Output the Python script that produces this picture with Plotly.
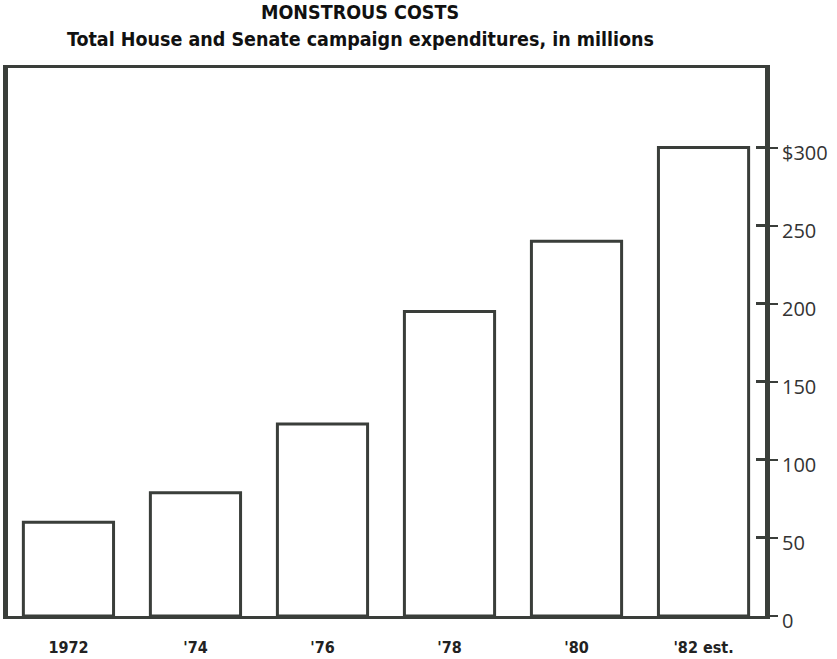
import plotly.graph_objects as go

categories = ["1972", "'74", "'76", "'78", "'80", "'82 est."]
values = [60, 79, 123, 195, 240, 300]
tick_vals = [0, 50, 100, 150, 200, 250, 300]
tick_text = ["0", "50", "100", "150", "200", "250", "$300"]

line_col = "#3a3e3a"
narrow = "DejaVu Sans Condensed, Liberation Sans Narrow, Open Sans, sans-serif"

W, H = 837, 659
L, R, T, B = 8, 837 - 765, 68, 659 - 616
ph = H - T - B

fig = go.Figure()
fig.add_trace(go.Bar(
    x=categories, y=values, width=0.71,
    marker=dict(color="white", line=dict(color=line_col, width=3)),
    showlegend=False, hoverinfo="x+y",
))
# invisible trace to carry the inner tick marks on an overlay axis
fig.add_trace(go.Scatter(x=categories, y=values, xaxis="x", yaxis="y2", mode="markers",
                         marker=dict(opacity=0), showlegend=False, hoverinfo="skip"))

fig.update_layout(
    width=W, height=H,
    paper_bgcolor="white", plot_bgcolor="white",
    margin=dict(l=L, r=R, t=T, b=B, autoexpand=False),
    font=dict(family=narrow, color="#222"),
    xaxis=dict(
        showline=True, linecolor=line_col, linewidth=3, mirror=True,
        showgrid=False, ticks="", zeroline=False, automargin=False,
        ticklabelstandoff=15,
        tickfont=dict(size=16, family=narrow, weight="bold", color="#222"),
        range=[-0.476, 5.484],
    ),
    yaxis=dict(
        side="right", range=[0, 351], showgrid=False, zeroline=False, automargin=False,
        showline=True, linecolor=line_col, linewidth=5, mirror=True,
        tickmode="array", tickvals=tick_vals, ticktext=tick_text,
        ticks="outside", ticklen=8, tickwidth=2, tickcolor=line_col,
        ticklabelshift=5,
        tickfont=dict(size=20, family="Open Sans, DejaVu Sans, sans-serif", color="#333"),
    ),
    yaxis2=dict(
        overlaying="y", anchor="x", side="right", range=[0, 351], showgrid=False, zeroline=False,
        automargin=False, showline=False,
        tickmode="array", tickvals=tick_vals, showticklabels=False,
        ticks="inside", ticklen=9, tickwidth=2.5, tickcolor=line_col,
    ),
    annotations=[
        dict(text="<b>MONSTROUS COSTS</b>", x=0.465, y=1 + (T - 13) / ph, xref="paper", yref="paper",
             yanchor="middle", showarrow=False,
             font=dict(size=19.5, family=narrow, color="#111")),
        dict(text="<b>Total House and Senate campaign expenditures, in millions</b>", x=0.465,
             y=1 + (T - 40) / ph, xref="paper", yref="paper", yanchor="middle", showarrow=False,
             font=dict(size=19.5, family=narrow, color="#111")),
    ],
)

fig.write_html("out.html", post_script="document.body.style.margin='0';",
               config={"displayModeBar": False})
